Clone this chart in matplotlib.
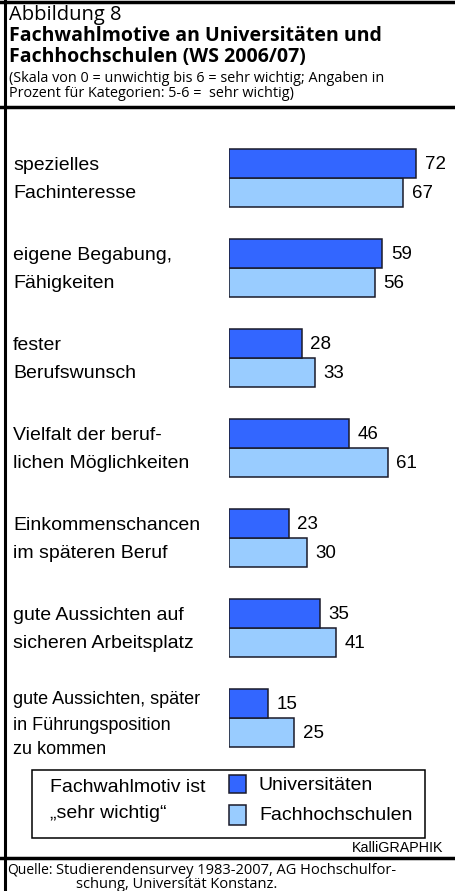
import matplotlib
matplotlib.use('Agg')
import matplotlib.pyplot as plt
from matplotlib.patches import Rectangle

# data
labels = [["spezielles", "Fachinteresse"],
          ["eigene Begabung,", "Fähigkeiten"],
          ["fester", "Berufswunsch"],
          ["Vielfalt der beruf-", "lichen Möglichkeiten"],
          ["Einkommenschancen", "im späteren Beruf"],
          ["gute Aussichten auf", "sicheren Arbeitsplatz"],
          ["gute Aussichten, später", "in Führungsposition", "zu kommen"]]
uni = [72, 59, 28, 46, 23, 35, 15]
fh = [67, 56, 33, 61, 30, 41, 25]
series_names = ["Universitäten", "Fachhochschulen"]

c_uni = '#3366ff'
c_fh = '#99ccff'
edge = '#1a1a2a'
body = 'Liberation Sans'
head = 'Open Sans'

W, H = 455, 891
fig = plt.figure(figsize=(W / 100, H / 100), dpi=100)

# page axes in pixel coordinates
pg = fig.add_axes([0, 0, 1, 1])
pg.set_xlim(0, W)
pg.set_ylim(H, 0)
pg.axis('off')

# frame lines
pg.plot([4.5, 4.5], [0, H], color='black', lw=2.2)
pg.plot([0, W], [2, 2], color='black', lw=2.5)
pg.plot([0, W], [106.5, 106.5], color='black', lw=2.5)
pg.plot([0, W], [857.5, 857.5], color='black', lw=2.5)

# header
pg.text(9, 15, "Abbildung 8", fontsize=14.5, family=head, va='center', ha='left')
pg.text(9, 36, "Fachwahlmotive an Universitäten und", fontsize=14, family=head,
        weight='bold', va='center', ha='left')
pg.text(9, 57, "Fachhochschulen (WS 2006/07)", fontsize=14, family=head,
        weight='bold', va='center', ha='left')
pg.text(9, 86, "(Skala von 0 = unwichtig bis 6 = sehr wichtig; Angaben in\n"
        "Prozent für Kategorien: 5-6 =  sehr wichtig)", fontsize=10.4,
        family=head, va='center', ha='left', linespacing=0.98)

# bar axes: starts at x=229 px, 2.6 px per percent
x0 = 229
ax = fig.add_axes([x0 / W, 0, 1 - x0 / W, 1])
ax.set_xlim(0, (W - x0) / 2.6)
ax.set_ylim(H, 0)
ax.axis('off')

bh = 29
centers = [178 + 90 * i for i in range(len(labels))]
yu = [c - bh / 2 for c in centers]
yf = [c + bh / 2 for c in centers]
ax.barh(yf, fh, height=bh, left=0, color=c_fh, edgecolor=edge, linewidth=1.1)
ax.barh(yu, uni, height=bh, left=0, color=c_uni, edgecolor=edge, linewidth=1.1)
for i in range(len(labels)):
    ax.text(uni[i] + 3.3, yu[i] + 1, str(uni[i]), fontsize=13.5, family=body,
            va='center', ha='left')
    ax.text(fh[i] + 3.3, yf[i] + 1, str(fh[i]), fontsize=13.5, family=body,
            va='center', ha='left')

# category labels, one text per line
for i, lines in enumerate(labels):
    if len(lines) == 2:
        offs, fs = [-12, 15], 14
    else:
        offs, fs = [-18, 7, 31], 13
    for off, line in zip(offs, lines):
        pg.text(13, centers[i] + off, line, fontsize=fs, family=body,
                va='center', ha='left')

# legend
pg.add_patch(Rectangle((32, 770), 393, 68, fill=False, edgecolor='black', lw=1.1))
pg.text(50, 787, "Fachwahlmotiv ist", fontsize=14, family=body, va='center', ha='left')
pg.text(50, 813, "\u201esehr wichtig\u201c", fontsize=14, family=body, va='center', ha='left')
pg.add_patch(Rectangle((229, 775), 17, 18, facecolor=c_uni, edgecolor=edge, lw=1.1))
pg.add_patch(Rectangle((229, 805), 17, 20, facecolor=c_fh, edgecolor=edge, lw=1.1))
pg.text(259, 786, series_names[0], fontsize=14, family=body, va='center', ha='left')
pg.text(259, 815, series_names[1], fontsize=14, family=body, va='center', ha='left')

pg.text(443, 848, "KalliGRAPHIK", fontsize=10.3, family=body, va='center', ha='right')

# source
pg.text(7, 870, "Quelle:", fontsize=10, family=head, va='center', ha='left')
pg.text(56, 870, "Studierendensurvey 1983-2007, AG Hochschulfor-", fontsize=10.5,
        family=head, va='center', ha='left')
pg.text(76, 885, "schung, Universität Konstanz.", fontsize=10.5,
        family=head, va='center', ha='left')

fig.savefig('out.png', dpi=100)
